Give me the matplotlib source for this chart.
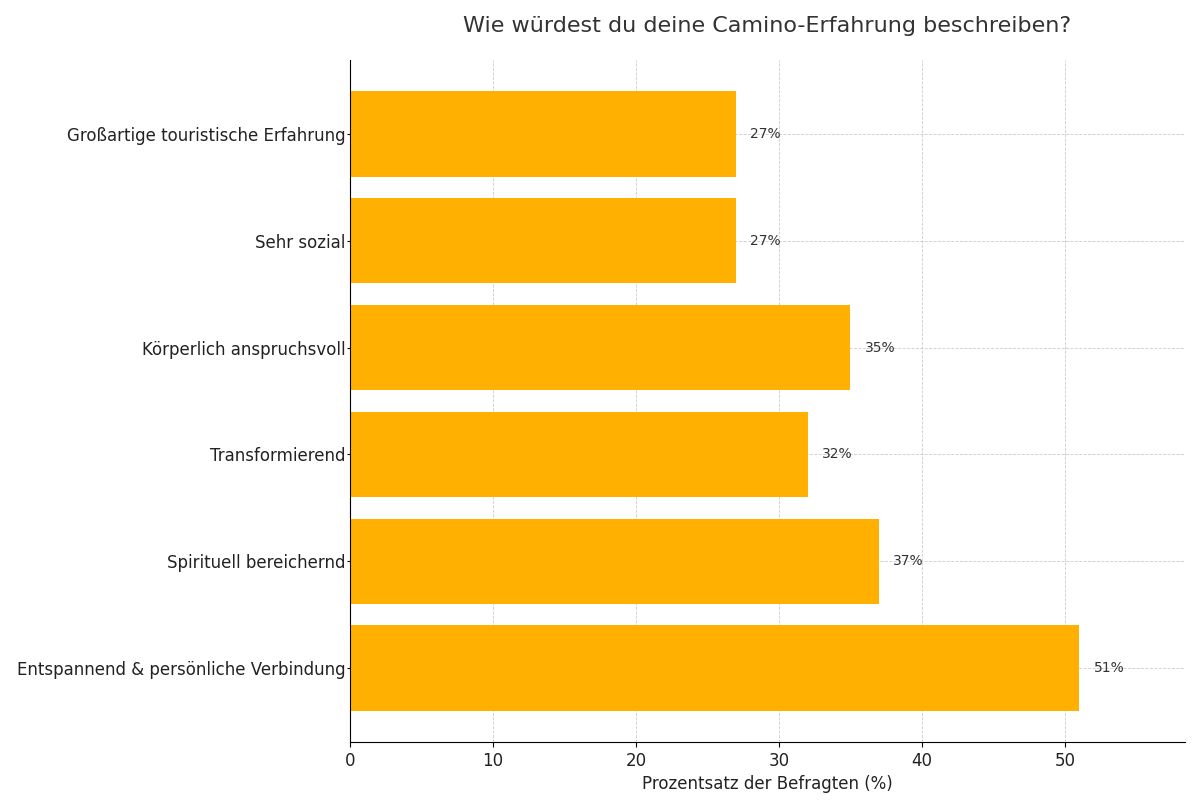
import matplotlib
matplotlib.use("Agg")
from matplotlib import pyplot as plt

# Kategorien von unten nach oben
kategorien = ["Entspannend & persönliche Verbindung", "Spirituell bereichernd",
              "Transformierend", "Körperlich anspruchsvoll", "Sehr sozial",
              "Großartige touristische Erfahrung"]
prozent = [51, 37, 32, 35, 27, 27]

plt.rcParams['font.family'] = ['DejaVu Sans']

fig = plt.figure(figsize=(12, 8), dpi=100)
ax = fig.add_axes([0.2917, 0.0725, 0.6958, 0.8525])

ax.barh(kategorien, prozent, color="#FFB000", height=0.8, zorder=2)

for i, v in enumerate(prozent):
    ax.text(v + 1, i, "{}%".format(v), va="center", ha="left", fontsize=10, color="#333333", zorder=3)

ax.set_xlim(0, 58.4)
ax.grid(True, linestyle="--", linewidth=0.6, color="#cccccc", zorder=0)
ax.set_axisbelow(True)
ax.spines["top"].set_visible(False)
ax.spines["right"].set_visible(False)
ax.tick_params(axis="both", labelsize=12, labelcolor="#222222")
ax.tick_params(axis="y", length=2, pad=1.5)

ax.set_xlabel("Prozentsatz der Befragten (%)", fontsize=12, color="#222222")
ax.set_title("Wie würdest du deine Camino-Erfahrung beschreiben?", fontsize=16, color="#333333", pad=20)

plt.savefig("out.png", dpi=100)
